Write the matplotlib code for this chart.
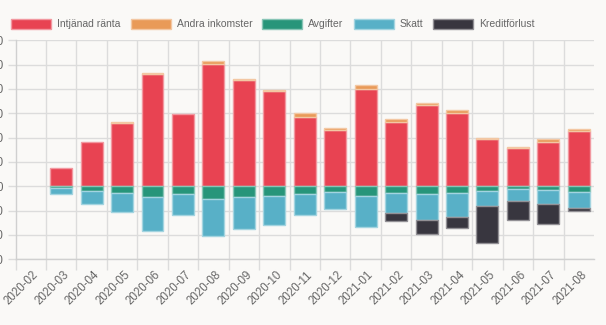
import matplotlib
matplotlib.use("Agg")
import matplotlib.pyplot as plt
import matplotlib.transforms as mtransforms
import matplotlib.colors as mc
from matplotlib.patches import Patch
import numpy as np

months = ["2020-02", "2020-03", "2020-04", "2020-05", "2020-06", "2020-07", "2020-08",
          "2020-09", "2020-10", "2020-11", "2020-12", "2021-01", "2021-02", "2021-03",
          "2021-04", "2021-05", "2021-06", "2021-07", "2021-08"]

intjanad_ranta = [0, 0.77, 1.81, 2.61, 4.60, 2.99, 5.02, 4.36, 3.92, 2.85, 2.30, 4.01, 2.66, 3.36,
                  3.00, 1.93, 1.58, 1.84, 2.29]
andra_inkomster = [0, 0.00, 0.00, 0.04, 0.05, 0.00, 0.12, 0.04, 0.04, 0.18, 0.08, 0.16, 0.10, 0.05,
                   0.12, 0.04, 0.03, 0.12, 0.05]
avgifter = [0, -0.07, -0.18, -0.26, -0.45, -0.30, -0.51, -0.43, -0.38, -0.30, -0.22, -0.41, -0.26, -0.33,
            -0.29, -0.19, -0.11, -0.16, -0.22]
skatt = [0, -0.23, -0.55, -0.80, -1.40, -0.89, -1.54, -1.32, -1.19, -0.89, -0.73, -1.25, -0.84, -1.04,
         -0.96, -0.60, -0.49, -0.56, -0.66]
kreditforlust = [0, 0, 0, 0, 0, 0, 0, 0, 0, 0, 0, 0, -0.33, -0.59, -0.48, -1.54, -0.77, -0.81, -0.14]

series_names = ["Intjänad ränta", "Andra inkomster", "Avgifter", "Skatt", "Kreditförlust"]
colors = ["#e84352", "#e99a58", "#27957a", "#58b0c7", "#38363f"]

y_ticks = [-3, -2, -1, 0, 1, 2, 3, 4, 5, 6]
y_tick_labels = ["-3 000", "-2 000", "-1 000", "0", "1 000", "2 000", "3 000", "4 000", "5 000", "6 000"]

W, H = 606, 325
plt.rcParams['font.family'] = ['Liberation Sans', 'DejaVu Sans']
fig = plt.figure(figsize=(W / 100, H / 100), dpi=100)
bg = "#faf9f7"
fig.patch.set_facecolor(bg)
ax = fig.add_axes([15.5 / W, 1 - 259.3 / H, (594 - 15.5) / W, (259.3 - 40.3) / H])
ax.set_facecolor(bg)

x = np.arange(len(months))
bw = 0.72


def edge(c):
    r, g, b = mc.to_rgb(c)
    return (r + (1 - r) * 0.45, g + (1 - g) * 0.45, b + (1 - b) * 0.45)


def lws(vals):
    return [1 if v != 0 else 0 for v in vals]


ax.bar(x, intjanad_ranta, bw, color=colors[0], edgecolor=edge(colors[0]), linewidth=lws(intjanad_ranta), zorder=3)
ax.bar(x, andra_inkomster, bw, bottom=intjanad_ranta, color=colors[1], edgecolor=edge(colors[1]), linewidth=lws(andra_inkomster), zorder=3)
ax.bar(x, avgifter, bw, color=colors[2], edgecolor=edge(colors[2]), linewidth=lws(avgifter), zorder=3)
ax.bar(x, skatt, bw, bottom=avgifter, color=colors[3], edgecolor=edge(colors[3]), linewidth=lws(skatt), zorder=3)
neg2 = np.array(avgifter) + np.array(skatt)
ax.bar(x, kreditforlust, bw, bottom=neg2, color=colors[4], edgecolor=edge(colors[4]), linewidth=lws(kreditforlust), zorder=3)

ax.set_xlim(-0.5, 18.5)
ax.set_ylim(-3, 6)

grid_c = "#dcdcdc"
ax.set_yticks(y_ticks)
ax.set_yticklabels(y_tick_labels)
ax.set_xticks(x - 0.5, minor=False)
ax.set_xticklabels([])
for xv in x[1:] - 0.5:
    ax.axvline(xv, color=grid_c, lw=1, zorder=0)
for yv in y_ticks:
    ax.axhline(yv, color=grid_c, lw=1, zorder=0)

ax.tick_params(axis='x', length=8, color=grid_c, width=1)
ax.tick_params(axis='y', length=6, color=grid_c, width=1, labelsize=8.3, labelcolor="#666666", pad=3)
for s in ["top", "right"]:
    ax.spines[s].set_visible(False)
for s in ["left", "bottom"]:
    ax.spines[s].set_color("#d0d0d0")
    ax.spines[s].set_linewidth(1)

offset = mtransforms.ScaledTranslation(6 / 100, -14 / 100, fig.dpi_scale_trans)
for i, m in enumerate(months):
    ax.text(i, -3, m, rotation=45, rotation_mode='anchor', ha='right', va='center',
            fontsize=8.3, color="#666666",
            transform=ax.transData + offset)

fs_leg = 7.5
handles = [Patch(facecolor=c, edgecolor=edge(c), linewidth=1) for c in colors]
leg = fig.legend(handles, series_names, loc='center', bbox_to_anchor=(273 / W, 1 - 24 / H),
                 ncol=5, frameon=False, fontsize=fs_leg, handlelength=28.8 / fs_leg,
                 handleheight=8.6 / fs_leg, handletextpad=4.3 / fs_leg, columnspacing=7.2 / fs_leg,
                 labelcolor="#666666", borderaxespad=0)

fig.savefig("out.png", dpi=100, facecolor=bg)
